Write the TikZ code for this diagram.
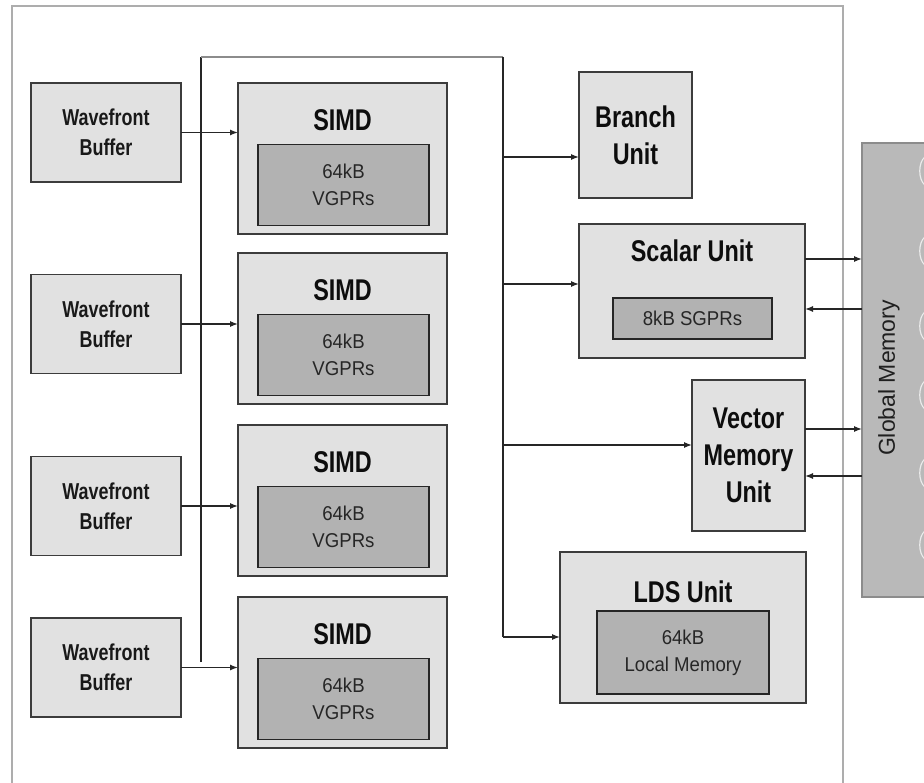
\documentclass[tikz,border=0pt]{standalone}
\usepackage{fontspec}
\setmainfont{Liberation Sans}
\newfontfamily\narrowsf[FakeStretch=0.78]{Liberation Sans}
\newfontfamily\innersf[FakeStretch=0.93]{Liberation Sans}
\usetikzlibrary{arrows.meta}
\definecolor{boxfill}{HTML}{E1E1E1}
\definecolor{regfill}{HTML}{B2B2B2}
\definecolor{memfill}{HTML}{B9B9B9}
\definecolor{edgecol}{HTML}{3C3C3C}
\definecolor{framecol}{HTML}{ADADAD}
\definecolor{wirecol}{HTML}{262626}

\begin{document}
\begin{tikzpicture}[x=1pt,y=-1pt,
  unitbox/.style={draw=edgecol, line width=1.4pt, fill=boxfill, inner sep=0pt, outer sep=0pt},
  regbox/.style={draw=black!85, line width=1.8pt, fill=regfill, inner sep=0pt, outer sep=0pt},
  membox/.style={draw=black!45, line width=1.2pt, fill=memfill, inner sep=0pt, outer sep=0pt},
  titletext/.style={font=\narrowsf\bfseries\fontsize{30}{37}\selectfont, text=black!95, align=center, inner sep=0pt},
  wbtext/.style={font=\narrowsf\bfseries\fontsize{23}{30}\selectfont, text=black!90, align=center, inner sep=0pt},
  regtext/.style={font=\innersf\fontsize{20}{27}\selectfont, text=black!85, align=center, inner sep=0pt},
  memtext/.style={font=\fontsize{23}{28}\selectfont, text=black!88, inner sep=0pt},
  wire/.style={draw=wirecol, line width=1.3pt},
  arr/.style={wire, -{Latex[length=8pt,width=6pt]}},
]
\useasboundingbox (0,0) rectangle (924,783);
\clip (0,0) rectangle (924,783);
\fill[white] (0,0) rectangle (924,783);

% compute unit frame
\draw[framecol, line width=2.5pt] (12,800) -- (12,6) -- (843,6) -- (843,800);

% global memory
\node[membox, minimum width=78pt, minimum height=454pt] (gm) at (901,370) {};
\node[memtext, rotate=90] (gmlabel) at (889,378) {Global Memory};

% faint outlines of neighbouring parts at the right edge
\foreach \c in {171,251,326,395,473,545}
  \draw[black!8, line width=1.2pt] (925,\c-14) .. controls (918,\c-9) and (918,\c+9) .. (925,\c+14);

% wavefront buffers
\foreach \n/\cy in {1/132.5, 2/324, 3/506, 4/667.5}
  \node[unitbox, minimum width=150pt, minimum height=99pt] (wb\n) at (106,\cy) {};
\foreach \n in {1,2,3,4}
  \node[wbtext] (wbl\n) at (wb\n) {Wavefront\\Buffer};

% SIMD units with their vector registers
\foreach \n/\top in {1/83, 2/253, 3/425, 4/597} {
  \node[unitbox, minimum width=209pt, minimum height=151pt] (simd\n) at (342.5,\top+75.5) {};
  \node[titletext] (simdt\n) at (342.5,\top+37) {SIMD};
  \node[regbox, minimum width=171pt, minimum height=81pt] (vgpr\n) at (343.5,\top+102) {};
  \node[regtext] (vgprt\n) at (vgpr\n) {64kB\\VGPRs};
}

% branch unit
\node[unitbox, minimum width=113pt, minimum height=126pt] (branch) at (635.5,135) {};
\node[titletext] (brancht) at (branch) {Branch\\Unit};

% scalar unit
\node[unitbox, minimum width=226pt, minimum height=134pt] (scalar) at (692,291) {};
\node[titletext] (scalart) at (692,251) {Scalar Unit};
\node[regbox, minimum width=159pt, minimum height=41pt] (sgpr) at (692.5,318.5) {};
\node[regtext] (sgprt) at (sgpr) {8kB SGPRs};

% vector memory unit
\node[unitbox, minimum width=113pt, minimum height=151pt] (vmu) at (748.5,455.5) {};
\node[titletext] (vmut) at (vmu) {Vector\\Memory\\Unit};

% LDS unit
\node[unitbox, minimum width=246pt, minimum height=151pt] (lds) at (683,627.5) {};
\node[titletext] (ldst) at (683,592) {LDS Unit};
\node[regbox, minimum width=172pt, minimum height=83pt] (ldsmem) at (683,652.5) {};
\node[regtext] (ldsmemt) at (ldsmem) {64kB\\Local Memory};

% instruction bus
\coordinate (busA) at (201,57);
\coordinate (busB) at (503,57);
\coordinate (busEnd) at (201,662);
\coordinate (busR) at (503,637);
\draw[wire] (busEnd) -- (busA);
\draw[black!45, line width=1.8pt] (busA) -- (busB);
\draw[wire] (busB) -- (busR);

% wavefront buffers to SIMDs
\foreach \n in {1,2,3,4}
  \draw[arr] (wb\n.east) -- (wb\n.east -| simd\n.west);

% bus to the other units
\coordinate (tb) at (503,157);
\coordinate (ts) at (503,284);
\coordinate (tv) at (503,445);
\draw[arr] (tb) -- (tb -| branch.west);
\draw[arr] (ts) -- (ts -| scalar.west);
\draw[arr] (tv) -- (tv -| vmu.west);
\draw[arr] (busR) -- (busR -| lds.west);

% traffic to and from global memory
\coordinate (so) at (805,259);
\coordinate (si) at (805,309);
\coordinate (vo) at (805,429);
\coordinate (vi) at (805,476);
\draw[arr] (so -| scalar.east) -- (so -| gm.west);
\draw[arr] (si -| gm.west) -- (si -| scalar.east);
\draw[arr] (vo -| vmu.east) -- (vo -| gm.west);
\draw[arr] (vi -| gm.west) -- (vi -| vmu.east);
\end{tikzpicture}
\end{document}
